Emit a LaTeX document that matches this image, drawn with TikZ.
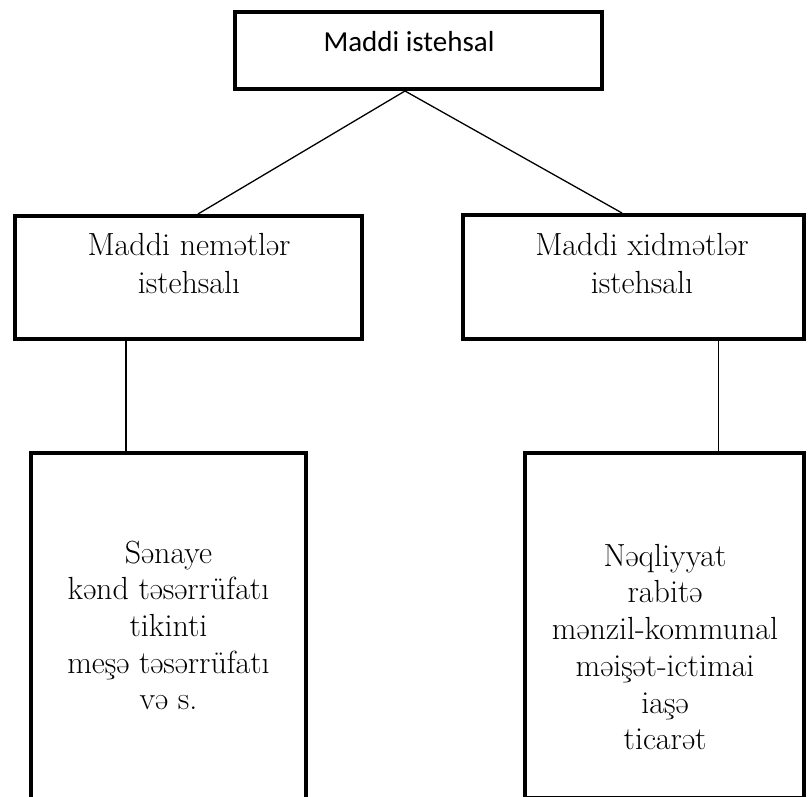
\documentclass[tikz,border=0pt]{standalone}
\usepackage{fontspec}
\newfontfamily\headfont{Carlito}
\usetikzlibrary{calc,positioning}

\tikzset{
  box/.style={draw, line width=4pt, inner sep=0pt},
  link/.style={line width=1.3pt},
  headtxt/.style={inner sep=0pt, font=\headfont\fontsize{29}{34}\selectfont},
  midtxt/.style={inner sep=0pt, align=center, font=\rmfamily\fontsize{32}{38}\selectfont},
  lowtxt/.style={inner sep=0pt, align=center, font=\rmfamily\fontsize{32}{36.7}\selectfont}
}

\begin{document}
\begin{tikzpicture}[x=1pt,y=-1pt]
    \useasboundingbox (0,0) rectangle (812,797);
    % texts
    \node[midtxt] (nemt) at (189,264) {Maddi nemətlər\\istehsalı};
    \node[midtxt] (xidt) at (642,264) {Maddi xidmətlər\\istehsalı};
    \node[lowtxt] (sent) at (168.5,625.5)
      {Sənaye\\kənd təsərrüfatı\\tikinti\\meşə təsərrüfatı\\və s.};
    \node[lowtxt] (neqt) at (665,647)
      {Nəqliyyat\\rabitə\\mənzil-kommunal\\məişət-ictimai\\iaşə\\ticarət};
    \node[headtxt, anchor=base] (topt) at (409,52) {Maddi istehsal};
    % boxes
    \node[box, minimum width=367pt, minimum height=77pt] (top) at (418.5,50.5) {};
    \node[box, minimum width=347pt, minimum height=123pt] (nem) at (188.5,277.5) {};
    \node[box, minimum width=341pt, minimum height=124pt] (xid) at (633.5,277) {};
    \begin{scope}
      \clip (0,0) rectangle (812,797);
      \node[box, minimum width=275pt, minimum height=400pt] (sen) at (168.5,653) {};
      \node[box, minimum width=279pt, minimum height=345pt] (neq) at (664.5,625.5) {};
    \end{scope}
    % connectors
    \coordinate (apex) at ([xshift=-13.5pt]top.south);
    \draw[link]
    (apex) edge ([xshift=9.5pt]nem.north)
    edge ([xshift=-11.5pt]xid.north)
    ([xshift=-62.5pt]nem.south) edge ([xshift=-42.5pt]sen.north)
    ([xshift=85pt]xid.south) edge ([xshift=54pt]neq.north);
\end{tikzpicture}
\end{document}
